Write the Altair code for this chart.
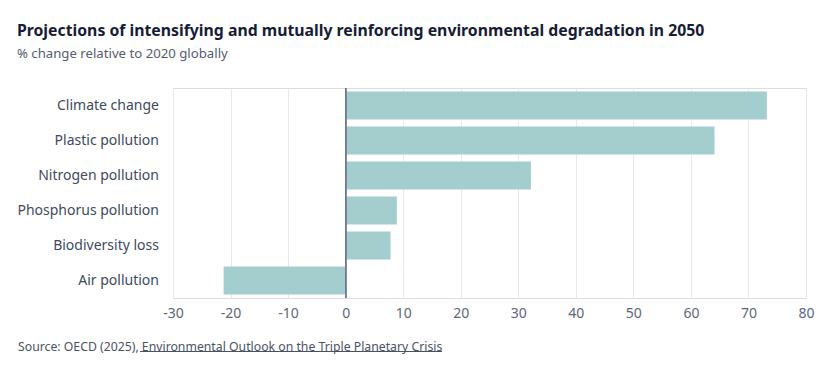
import altair as alt
import pandas as pd

categories = ["Climate change", "Plastic pollution", "Nitrogen pollution",
              "Phosphorus pollution", "Biodiversity loss", "Air pollution"]
values = [73.2, 64.1, 32.2, 8.9, 7.8, -21.2]
x_ticks = [-30, -20, -10, 0, 10, 20, 30, 40, 50, 60, 70, 80]

title_text = "Projections of intensifying and mutually reinforcing environmental degradation in 2050"
subtitle_text = "% change relative to 2020 globally"
source_text = "Source: OECD (2025), Environmental Outlook on the Triple Planetary Crisis"

df = pd.DataFrame({"category": categories, "value": values})

FONT = "Noto Sans"
W, H = 633, 210

xscale = alt.Scale(domain=[-30, 80], nice=False, zero=False)

bars = alt.Chart(df).mark_bar(color="#a3cecd").encode(
    x=alt.X("value:Q", scale=xscale,
            axis=alt.Axis(values=x_ticks, grid=True, gridColor="#e8e9eb", domain=False,
                          ticks=False, labelFont=FONT, labelFontSize=14,
                          labelColor="#5d667a", labelPadding=8, labelFlush=False,
                          labelExpr="'' + datum.value",
                          title=source_text, titleFont=FONT, titleFontSize=12.25,
                          titleFontWeight="normal", titleColor="#4a5263",
                          titleAlign="left", titleAnchor="start", titleBaseline="alphabetic",
                          titleX=-155.5, titleY=52)),
    y=alt.Y("category:N", sort=categories,
            scale=alt.Scale(paddingInner=0.2, paddingOuter=0.1),
            axis=alt.Axis(title=None, domain=False, ticks=False, labelFont=FONT,
                          labelFontSize=14, labelColor="#414a5d", labelPadding=14.5)),
)

zero = alt.Chart(df).mark_rule(color="#6e7990", strokeWidth=1.2).encode(
    x=alt.datum(0, scale=xscale)
)

underline = alt.Chart(df).mark_rule(color="#4a5263", strokeWidth=0.8).encode(
    x=alt.value(-32.5), x2=alt.value(268.5), y=alt.value(263.5)
)

chart = alt.layer(bars, zero, underline).properties(
    width=W, height=H,
    padding={"left": 8, "top": 15, "right": 10, "bottom": 10},
    title=alt.TitleParams(
        text=title_text, subtitle=subtitle_text, anchor="start", frame="bounds",
        font=FONT, fontSize=15.8, fontWeight="bold", color="#161c36",
        subtitleFont=FONT, subtitleFontSize=13.2, subtitleColor="#555d6e",
        subtitlePadding=8, offset=26,
    ),
).configure_view(stroke=None).configure(background="white")

chart.save("out.html", embed_options={"renderer": "svg", "actions": False})
